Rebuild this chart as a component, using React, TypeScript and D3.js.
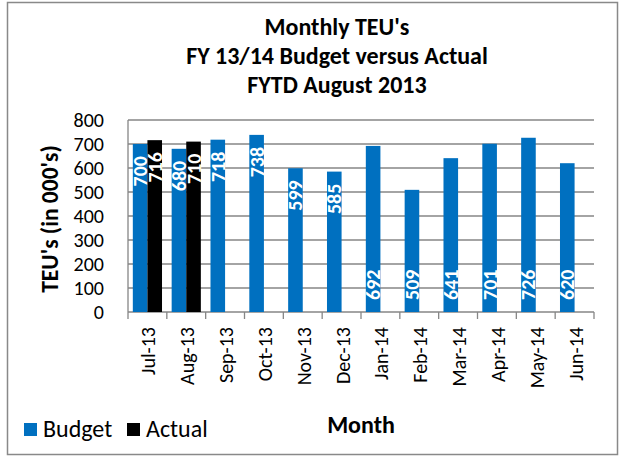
import React from "react";
import * as d3 from "d3";

const months = ["Jul-13","Aug-13","Sep-13","Oct-13","Nov-13","Dec-13","Jan-14","Feb-14","Mar-14","Apr-14","May-14","Jun-14"];
const budget = [700,680,718,738,599,585,692,509,641,701,726,620];
const actual: (number|null)[] = [716,710,null,null,null,null,null,null,null,null,null,null];
const labelAtBase = [false,false,false,false,false,false,true,true,true,true,true,true];
const yTicks = [0,100,200,300,400,500,600,700,800];
const titleLines = ["Monthly TEU's","FY 13/14 Budget versus Actual","FYTD August 2013"];
const seriesNames = ["Budget","Actual"];
const seriesColors = ["#0070C0","#000000"];

const W = 629, H = 457;
const plot = { left: 128, right: 594, top: 120, bottom: 312 };
const FONT = "Carlito, Lato, 'Liberation Sans', sans-serif";

export default function App() {
  const x0 = d3.scaleBand<string>().domain(months).range([plot.left, plot.right]).paddingInner(0).paddingOuter(0);
  const x1 = d3.scaleBand<string>().domain(seriesNames).range([0, x0.bandwidth()]).paddingInner(0).paddingOuter(0.33);
  const y = d3.scaleLinear().domain([0, 800]).range([plot.bottom, plot.top]);
  const bw = x1.bandwidth();

  const labels: React.ReactNode[] = [];
  const bars: React.ReactNode[] = [];
  months.forEach((m, i) => {
    const series = [budget[i], actual[i]];
    series.forEach((v, s) => {
      if (v == null) return;
      const bx = (x0(m) as number) + (x1(seriesNames[s]) as number);
      const top = y(v);
      bars.push(<rect key={`b${i}-${s}`} x={bx} y={top} width={bw} height={y(0) - top} fill={seriesColors[s]} />);
      const cx = bx + bw / 2;
      const atBase = s === 0 && labelAtBase[i];
      const ly = atBase ? y(0) - 12 : top + 12;
      labels.push(
        <text key={`l${i}-${s}`} transform={`translate(${cx},${ly}) rotate(-90)`} textAnchor={atBase ? "start" : "end"}
          dominantBaseline="central" fill="#fff" fontWeight="bold" fontSize={20} fontFamily={FONT}>{v}</text>
      );
    });
  });

  return (
    <svg width={W} height={H} style={{ position: "absolute", left: 0, top: 0 }}>
      <rect x={0} y={0} width={W} height={H} fill="#fff" />
      <rect x={7.5} y={2.5} width={610} height={452} fill="#fff" stroke="#898989" strokeWidth={1.5} />
      {titleLines.map((t, i) => (
        <text key={t} x={337} y={35 + i * 29} textAnchor="middle" fontWeight="bold" fontSize={24} fontFamily={FONT} fill="#000">{t}</text>
      ))}
      {yTicks.map(t => (
        <g key={t}>
          <line x1={plot.left} x2={plot.right} y1={y(t)} y2={y(t)} stroke="#868686" strokeWidth={1.3} />
          <text x={104} y={y(t)} textAnchor="end" dominantBaseline="central" fontSize={20} fontFamily={FONT} fill="#000">{t}</text>
        </g>
      ))}
      <line x1={plot.left} x2={plot.left} y1={plot.top} y2={plot.bottom} stroke="#868686" strokeWidth={1.3} />
      {months.map(m => (
        <line key={m} x1={x0(m)} x2={x0(m)} y1={plot.bottom} y2={plot.bottom + 7} stroke="#868686" strokeWidth={1.3} />
      ))}
      <line x1={plot.right} x2={plot.right} y1={plot.bottom} y2={plot.bottom + 7} stroke="#868686" strokeWidth={1.3} />
      {bars}
      {labels}
      {months.map(m => (
        <text key={m} transform={`translate(${(x0(m) as number) + x0.bandwidth() / 2 + 1},${plot.bottom + 15}) rotate(-90)`}
          textAnchor="end" dominantBaseline="central" fontSize={20} fontFamily={FONT} fill="#000">{m}</text>
      ))}
      <text transform={`translate(50,${(plot.top + plot.bottom) / 2 + 3}) rotate(-90)`} textAnchor="middle" dominantBaseline="central"
        fontWeight="bold" fontSize={23.5} fontFamily={FONT} fill="#000">TEU's (in 000's)</text>
      <text x={361} y={433} textAnchor="middle" fontWeight="bold" fontSize={24} fontFamily={FONT} fill="#000">Month</text>
      {seriesNames.map((n, i) => {
        const lx = [24, 127][i];
        return (
          <g key={n}>
            <rect x={lx} y={423} width={13} height={13} fill={seriesColors[i]} />
            <text x={lx + 19} y={437} fontSize={24} fontFamily={FONT} fill="#000">{n}</text>
          </g>
        );
      })}
    </svg>
  );
}
